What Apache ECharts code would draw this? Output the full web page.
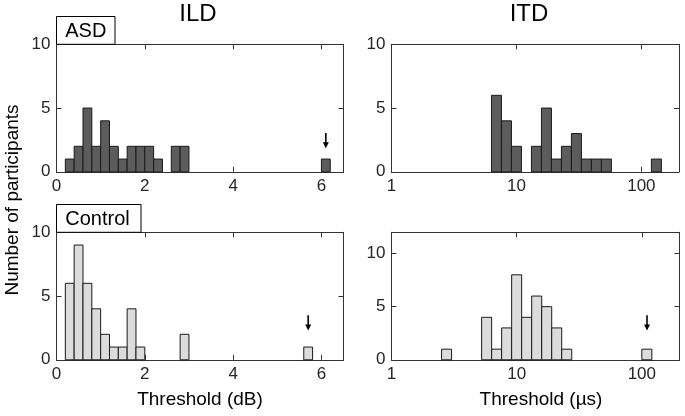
<!DOCTYPE html>
<html>
<head>
<meta charset="utf-8">
<script src="https://cdn.jsdelivr.net/npm/echarts@6/dist/echarts.min.js"></script>
<style>html,body{margin:0;padding:0;background:#fff}#c{width:685px;height:416px}</style>
</head>
<body>
<div id="c"></div>
<script>
// ---- Data ----
// ILD histograms (dB): bins of 0.2 dB starting at 0.2 dB
const ildBinStart = 0.2;
const ildBinWidth = 0.2;
const ildAsdCounts  = [1,2,5,2,4,2,1,2,2,2,1,0,2,2,0,0,0,0,0,0,0,0,0,0,0,0,0,0,0,1];
const ildCtrlCounts = [6,9,6,4,2,1,1,4,1,0,0,0,0,2,0,0,0,0,0,0,0,0,0,0,0,0,0,1];
// ITD histograms (µs): log10-spaced bins of 0.08 decades
const itdAsdLogStart = 0.8;
const itdCtrlLogStart = 0.4;
const itdLogWidth = 0.08;
const itdAsdCounts  = [6,4,2,0,2,5,1,2,3,1,1,1,0,0,0,0,1];
const itdCtrlCounts = [1,0,0,0,4,1,3,8,4,6,5,3,1,0,0,0,0,0,0,0,1];
// Outlier arrows: [x, yTop, yBottom]
const ildAsdArrow  = [[6.1, 3.05, 1.85]];
const ildCtrlArrow = [[5.7, 3.5, 2.3]];
const itdCtrlArrow = [[110, 4.2, 2.75]];
const ildTicks = [0, 2, 4, 6];
const itdTicks = [1, 10, 100];
const countTicks = [0, 5, 10];

// ---- Build ----
function linBins(counts, start, w) {
  return counts.map((c, i) => [start + i * w, start + (i + 1) * w, c]).filter(d => d[2] > 0);
}
function logBins(counts, start, w) {
  return counts.map((c, i) => [Math.pow(10, start + i * w), Math.pow(10, start + (i + 1) * w), c]).filter(d => d[2] > 0);
}
const FONT = 'Liberation Sans, Arial, Helvetica, sans-serif';
const AX = '#333333';
const TXT = '#262626';

function barRender(fill) {
  return function (params, api) {
    const p0 = api.coord([api.value(0), api.value(2)]);
    const p1 = api.coord([api.value(1), 0]);
    return {
      type: 'rect',
      shape: { x: p0[0], y: p0[1], width: p1[0] - p0[0], height: p1[1] - p0[1] },
      style: { fill: fill, stroke: '#1a1a1a', lineWidth: 1 }
    };
  };
}
function arrowRender(params, api) {
  const pt = api.coord([api.value(0), api.value(1)]);
  const pb = api.coord([api.value(0), api.value(2)]);
  return {
    type: 'group',
    children: [
      { type: 'line', shape: { x1: pt[0], y1: pt[1], x2: pb[0], y2: pb[1] - 5 }, style: { stroke: '#000', lineWidth: 1.6 } },
      { type: 'polygon', shape: { points: [[pb[0] - 3, pb[1] - 6], [pb[0] + 3, pb[1] - 6], [pb[0], pb[1]]] }, style: { fill: '#000' } }
    ]
  };
}

const grids = [
  { left: 56.5, top: 44.3, width: 287, height: 127.5 },
  { left: 391.5, top: 44.3, width: 287.5, height: 127.5 },
  { left: 56.5, top: 232.3, width: 287, height: 127.5 },
  { left: 391.5, top: 232.3, width: 288, height: 127.5 }
];

function xPair(gi, isLog) {
  const base = {
    gridIndex: gi,
    min: isLog ? 1 : 0,
    max: isLog ? 200 : 6.5,
    axisLine: { show: true, onZero: false, lineStyle: { color: AX, width: 1 } },
    axisTick: { show: true, inside: true, length: 5, lineStyle: { color: AX } },
    splitLine: { show: false }
  };
  if (isLog) { base.type = 'log'; base.logBase = 10; } else { base.type = 'value'; base.interval = 2; }
  const fmt = isLog
    ? (v => (itdTicks.indexOf(Math.round(v)) >= 0 ? String(Math.round(v)) : ''))
    : (v => (ildTicks.indexOf(v) >= 0 ? String(v) : ''));
  const bottom = Object.assign({}, base, {
    position: 'bottom',
    axisLabel: { show: true, margin: 6, color: TXT, fontSize: 17, fontFamily: FONT, showMaxLabel: false, formatter: fmt }
  });
  const top = Object.assign({}, base, { position: 'top', axisLabel: { show: false } });
  return [bottom, top];
}
function yPair(gi, max) {
  const base = {
    type: 'value', gridIndex: gi, min: 0, max: max, interval: 5,
    axisLine: { show: true, onZero: false, lineStyle: { color: AX, width: 1 } },
    axisTick: { show: true, inside: true, length: 5, lineStyle: { color: AX } },
    splitLine: { show: false }
  };
  const left = Object.assign({}, base, {
    position: 'left',
    axisLabel: { show: true, margin: 6, color: TXT, fontSize: 17, fontFamily: FONT, showMaxLabel: max === 10,
      formatter: v => (countTicks.indexOf(v) >= 0 ? String(v) : '') }
  });
  const right = Object.assign({}, base, { position: 'right', axisLabel: { show: false } });
  return [left, right];
}

const xAxes = [].concat(xPair(0, false), xPair(1, true), xPair(2, false), xPair(3, true));
const yAxes = [].concat(yPair(0, 10), yPair(1, 10), yPair(2, 10), yPair(3, 12));

const ASD_FILL = '#5c5c5c';
const CTRL_FILL = '#dcdcdc';

const series = [
  { type: 'custom', name: 'ILD ASD', xAxisIndex: 0, yAxisIndex: 0, renderItem: barRender(ASD_FILL), data: linBins(ildAsdCounts, ildBinStart, ildBinWidth) },
  { type: 'custom', name: 'ITD ASD', xAxisIndex: 2, yAxisIndex: 2, renderItem: barRender(ASD_FILL), data: logBins(itdAsdCounts, itdAsdLogStart, itdLogWidth) },
  { type: 'custom', name: 'ILD Control', xAxisIndex: 4, yAxisIndex: 4, renderItem: barRender(CTRL_FILL), data: linBins(ildCtrlCounts, ildBinStart, ildBinWidth) },
  { type: 'custom', name: 'ITD Control', xAxisIndex: 6, yAxisIndex: 6, renderItem: barRender(CTRL_FILL), data: logBins(itdCtrlCounts, itdCtrlLogStart, itdLogWidth) },
  { type: 'custom', xAxisIndex: 0, yAxisIndex: 0, renderItem: arrowRender, data: ildAsdArrow },
  { type: 'custom', xAxisIndex: 4, yAxisIndex: 4, renderItem: arrowRender, data: ildCtrlArrow },
  { type: 'custom', xAxisIndex: 6, yAxisIndex: 6, renderItem: arrowRender, data: itdCtrlArrow }
];

const graphic = [
  { type: 'text', x: 198, y: 14, style: { text: 'ILD', fill: '#000', font: '24px ' + FONT, textAlign: 'center', textVerticalAlign: 'middle' } },
  { type: 'text', x: 529, y: 14, style: { text: 'ITD', fill: '#000', font: '24px ' + FONT, textAlign: 'center', textVerticalAlign: 'middle' } },
  { type: 'rect', shape: { x: 56.5, y: 16.5, width: 58.5, height: 27.8 }, style: { fill: '#fff', stroke: '#000', lineWidth: 1 }, z: 100 },
  { type: 'text', x: 85.8, y: 31, z: 101, style: { text: 'ASD', fill: '#000', font: '20px ' + FONT, textAlign: 'center', textVerticalAlign: 'middle' } },
  { type: 'rect', shape: { x: 56.5, y: 204.5, width: 84.5, height: 27.8 }, style: { fill: '#fff', stroke: '#000', lineWidth: 1 }, z: 100 },
  { type: 'text', x: 97.5, y: 219, z: 101, style: { text: 'Control', fill: '#000', font: '20px ' + FONT, textAlign: 'center', textVerticalAlign: 'middle' } },
  { type: 'text', x: 13, y: 200, rotation: Math.PI / 2, style: { text: 'Number of participants', fill: '#000', font: '19px ' + FONT, textAlign: 'center', textVerticalAlign: 'middle' } },
  { type: 'text', x: 200, y: 400, style: { text: 'Threshold (dB)', fill: '#000', font: '19px ' + FONT, textAlign: 'center', textVerticalAlign: 'middle' } },
  { type: 'text', x: 541, y: 400, style: { text: 'Threshold (µs)', fill: '#000', font: '19px ' + FONT, textAlign: 'center', textVerticalAlign: 'middle' } }
];

const chart = echarts.init(document.getElementById('c'), null, { renderer: 'canvas' });
chart.setOption({
  animation: false,
  backgroundColor: '#fff',
  grid: grids,
  xAxis: xAxes,
  yAxis: yAxes,
  series: series,
  graphic: graphic
});
</script>
</body>
</html>
